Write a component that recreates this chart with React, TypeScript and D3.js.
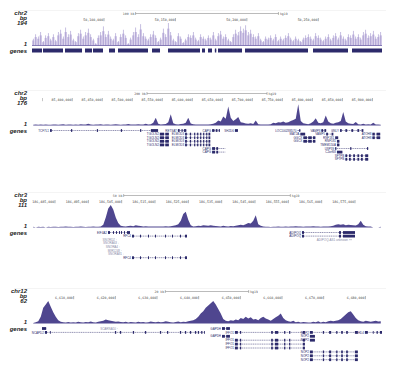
import React from "react";
import * as d3 from "d3";

const W = 395;
const H = 370;
const X0 = 32;
const X1 = 382;

// region info per panel
const chroms = ["chr2", "chr2", "chr3", "chr12"];
const maxLabels = ["194", "176", "111", "62"];
const regionStartBp = [50049600, 85333000, 186478100, 6600000];
const regionKb = [245, 583, 105, 84];
const scaleBarKb = [100, 200, 50, 20];

const ticks1 = [50100000, 50150000, 50200000, 50250000];
const ticks2 = [85350000, 85400000, 85450000, 85500000, 85550000, 85600000, 85650000, 85700000, 85750000, 85800000, 85850000, 85900000];
const ticks3 = [186485000, 186495000, 186505000, 186515000, 186525000, 186535000, 186545000, 186555000, 186565000, 186575000];
const ticks4 = [6610000, 6620000, 6630000, 6640000, 6650000, 6660000, 6670000, 6680000];

// coverage, fraction of track height, 140 equal bins across the region
const sig1 = [
  0.3, 0.5, 0.4, 0.6, 0.2, 0.45, 0.55, 0.3, 0.5, 0.25,
  0.6, 0.7, 0.4, 0.8, 0.5, 0.65, 0.3, 0.2, 0.55, 0.7,
  0.4, 0.6, 0.75, 0.5, 0.3, 0.1, 0.45, 0.6, 0.85, 0.5,
  0.65, 0.4, 0.3, 0.55, 0.2, 0.5, 0.7, 0.45, 0.1, 0.35,
  0.6, 0.8, 0.5, 0.95, 0.55, 0.4, 0.3, 0.5, 0.65, 0.45,
  0.2, 0.35, 0.75, 0.5, 1.0, 0.6, 0.3, 0.2, 0.55, 0.4,
  0.15, 0.3, 0.5, 0.45, 0.6, 0.35, 0.25, 0.5, 0.4, 0.3,
  0.45, 0.35, 0.6, 0.3, 0.55, 0.65, 0.4, 0.5, 0.3, 0.2,
  0.5, 0.7, 0.6, 0.85, 0.75, 0.9, 0.6, 0.7, 0.5, 0.4,
  0.55, 0.3, 0.2, 0.4, 0.35, 0.45, 0.3, 0.5, 0.25, 0.4,
  0.3, 0.45, 0.55, 0.35, 0.25, 0.4, 0.3, 0.2, 0.35, 0.45,
  0.5, 0.4, 0.3, 0.55, 0.45, 0.35, 0.25, 0.4, 0.5, 0.3,
  0.45, 0.55, 0.35, 0.6, 0.4, 0.3, 0.5, 0.45, 0.65, 0.4,
  0.5, 0.35, 0.6, 0.7, 0.45, 0.55, 0.65, 0.4, 0.5, 0.6,
];
const sig2 = [
  0.03, 0.04, 0.03, 0.05, 0.03, 0.04, 0.03, 0.03, 0.05, 0.04,
  0.03, 0.04, 0.06, 0.03, 0.04, 0.05, 0.03, 0.04, 0.03, 0.06,
  0.04, 0.05, 0.08, 0.04, 0.03, 0.05, 0.04, 0.06, 0.03, 0.04,
  0.05, 0.03, 0.04, 0.06, 0.04, 0.03, 0.05, 0.04, 0.07, 0.04,
  0.05, 0.04, 0.06, 0.05, 0.04, 0.08, 0.05, 0.06, 0.12, 0.35,
  0.08, 0.05, 0.06, 0.07, 0.15, 0.5, 0.1, 0.06, 0.05, 0.07,
  0.08, 0.12, 0.35, 0.09, 0.06, 0.05, 0.04, 0.05, 0.04, 0.05,
  0.04, 0.06, 0.08, 0.12, 0.22, 0.18, 0.4, 0.3, 0.85, 0.35,
  0.2, 0.28, 0.38, 0.15, 0.12, 0.09, 0.08, 0.1, 0.07, 0.22,
  0.06, 0.05, 0.04, 0.05, 0.04, 0.06, 0.12, 0.1, 0.15, 0.13,
  0.18, 0.12, 0.15, 0.2, 0.25, 0.3, 0.95, 0.2, 0.1, 0.08,
  0.06, 0.1, 0.18, 0.32, 0.12, 0.1, 0.15, 0.45, 0.18, 0.1,
  0.08, 0.12, 0.15, 0.2, 0.6, 0.18, 0.1, 0.08, 0.07, 0.16,
  0.06, 0.05, 0.08, 0.05, 0.06, 0.04, 0.12, 0.05, 0.04, 0.03,
];
const sig3 = [
  0.03, 0, 0.03, 0.02, 0.03, 0, 0.03, 0.02, 0.03, 0.03,
  0.02, 0.03, 0.03, 0.04, 0.03, 0.03, 0.02, 0.03, 0.03, 0.04,
  0.03, 0.02, 0.03, 0.03, 0.04, 0.03, 0.03, 0.05, 0.12, 0.45,
  0.85, 1.0, 0.8, 0.45, 0.2, 0.08, 0.06, 0.05, 0.07, 0.08,
  0.06, 0.1, 0.08, 0.07, 0.05, 0.06, 0.04, 0.05, 0.04, 0.05,
  0.04, 0.05, 0.04, 0.06, 0.05, 0.06, 0.08, 0.1, 0.15, 0.3,
  0.6, 0.7, 0.35, 0.1, 0.05, 0.06, 0.08, 0.07, 0.1, 0.09,
  0.08, 0.1, 0.08, 0.07, 0.06, 0.05, 0.08, 0.06, 0.05, 0.07,
  0.06, 0.08, 0.1, 0.12, 0.1, 0.14, 0.2, 0.18, 0.3, 0.55,
  0.15, 0.08, 0.04, 0.03, 0.03, 0.02, 0.03, 0.03, 0.04, 0.03,
  0.03, 0.04, 0.03, 0.05, 0.04, 0.06, 0.05, 0.04, 0.03, 0.05,
  0.04, 0.05, 0.06, 0.04, 0.05, 0.03, 0.04, 0.05, 0.04, 0.06,
  0.08, 0.12, 0.15, 0.12, 0.14, 0.1, 0.12, 0.11, 0.1, 0.09,
  0.15, 0.3, 0.12, 0.06, 0.05, 0.04, 0, 0, 0, 0.03,
];
const sig4 = [
  0.02, 0.06, 0.1, 0.3, 0.7, 0.85, 1.0, 0.75, 0.5, 0.3,
  0.15, 0.08, 0.06, 0.05, 0.07, 0.04, 0.06, 0.05, 0.08, 0.06,
  0.05, 0.07, 0.06, 0.09, 0.06, 0.05, 0.08, 0.1, 0.12, 0.18,
  0.14, 0.12, 0.1, 0.08, 0.09, 0.07, 0.06, 0.08, 0.05, 0.07,
  0.06, 0.05, 0.08, 0.06, 0.07, 0.05, 0.06, 0.09, 0.07, 0.06,
  0.08, 0.06, 0.07, 0.1, 0.08, 0.06, 0.05, 0.07, 0.09, 0.06,
  0.08, 0.07, 0.1, 0.12, 0.15, 0.2, 0.3, 0.45, 0.55, 0.7,
  0.8, 0.9, 1.0, 0.85, 0.65, 0.45, 0.2, 0.12, 0.1, 0.15,
  0.12, 0.18, 0.15, 0.25, 0.2, 0.3, 0.22, 0.28, 0.18, 0.2,
  0.15, 0.25, 0.3, 0.22, 0.18, 0.12, 0.2, 0.28, 0.35, 0.45,
  0.25, 0.15, 0.1, 0.08, 0.12, 0.06, 0.08, 0.05, 0.07, 0.06,
  0.04, 0.05, 0.08, 0.06, 0.1, 0.05, 0.08, 0.06, 0.1, 0.12,
  0.1, 0.12, 0.15, 0.2, 0.3, 0.4, 0.5, 0.55, 0.4, 0.25,
  0.15, 0.1, 0.08, 0.12, 0.1, 0.08, 0.1, 0.12, 0.09, 0.1,
];

type Gene = { n: string; r: number; s: number; e: number; x: number[][]; gray?: boolean };

// gene models, kb from region start
const genes1: Gene[] = [
  [0, 7], [7.7, 21.7], [23.1, 35], [37.1, 42], [42.7, 49.7], [53.9, 58.1], [60.2, 81.2],
  [84, 89.6], [95.2, 117.6], [119, 121.1], [123.2, 126], [128, 129], [130.2, 147],
  [149.1, 193.2], [196.7, 221.2], [224, 245],
].map(([s, e]) => ({ n: "", r: 0, s, e, x: [[s, e]] }));

const genes2: Gene[] = [
  { n: "TCF7L1", r: 0, s: 30, e: 210, x: [[30, 33], [65, 67], [108, 110], [148, 150], [180, 182], [198, 210]] },
  { n: "RETSAT", r: 0, s: 243, e: 257, x: [[243, 246], [249, 251], [253, 257]] },
  { n: "CAPG", r: 0, s: 300, e: 313, x: [[300, 304], [306, 309], [311, 313]] },
  { n: "SH2D6", r: 0, s: 338, e: 343, x: [[338, 343]] },
  { n: "LOC100288570", r: 0, s: 442, e: 447, x: [[445, 447]] },
  { n: "VAMP8", r: 0, s: 482, e: 490, x: [[482, 485], [487, 490]] },
  { n: "GNLY", r: 0, s: 513, e: 552, x: [[513, 516], [522, 525], [532, 535], [542, 545], [549, 552]] },
  { n: "TGOLN2", r: 1, s: 213, e: 228, x: [[213, 220], [222, 228]] },
  { n: "TGOLN2", r: 2, s: 213, e: 228, x: [[213, 220], [222, 228]] },
  { n: "TGOLN2", r: 3, s: 213, e: 228, x: [[213, 220], [222, 228]] },
  { n: "TGOLN2", r: 4, s: 213, e: 228, x: [[213, 220], [222, 228]] },
  { n: "ELMOD3", r: 1, s: 255, e: 297, x: [[255, 258], [263, 265], [270, 272], [275, 277], [280, 282], [285, 287], [290, 292], [294, 297]] },
  { n: "ELMOD3", r: 2, s: 255, e: 297, x: [[255, 258], [263, 265], [270, 272], [275, 277], [280, 282], [285, 287], [290, 292], [294, 297]] },
  { n: "ELMOD3", r: 3, s: 255, e: 297, x: [[255, 258], [263, 265], [270, 272], [275, 277], [280, 282], [285, 287], [290, 292], [294, 297]] },
  { n: "ELMOD3", r: 4, s: 255, e: 297, x: [[255, 258], [263, 265], [270, 272], [275, 277], [280, 282], [285, 287], [290, 292], [294, 297]] },
  { n: "CAPG", r: 5, s: 300, e: 322, x: [[300, 305], [307, 310]] },
  { n: "CAPG", r: 6, s: 300, e: 322, x: [[300, 305], [307, 310]] },
  { n: "MAT2A", r: 1, s: 447, e: 455, x: [[447, 455]] },
  { n: "VAMP5", r: 1, s: 490, e: 502, x: [[490, 493], [499, 502]] },
  { n: "ATOH8", r: 1, s: 567, e: 580, x: [[567, 571], [574, 580]] },
  { n: "ATOH8", r: 2, s: 567, e: 580, x: [[567, 571], [574, 580]] },
  { n: "GGCX", r: 2, s: 452, e: 472, x: [[452, 458], [460, 466], [468, 472]] },
  { n: "GGCX", r: 3, s: 452, e: 472, x: [[452, 458], [460, 466], [468, 472]] },
  { n: "RNF181", r: 2, s: 505, e: 510, x: [[505, 510]] },
  { n: "RNF181", r: 3, s: 508, e: 512, x: [[508, 512]] },
  { n: "TMEM150A", r: 4, s: 508, e: 512, x: [[508, 512]] },
  { n: "USP39", r: 5, s: 505, e: 560, x: [[505, 507], [530, 532], [558, 560]] },
  { n: "C2orf68", r: 6, s: 508, e: 517, x: [[508, 517]] },
  { n: "SFTPB", r: 7, s: 522, e: 560, x: [[522, 525], [528, 531], [535, 538], [542, 545], [548, 551], [555, 560]] },
  { n: "SFTPB", r: 8, s: 522, e: 560, x: [[522, 525], [528, 531], [535, 538], [542, 545], [548, 551], [555, 560]] },
];

const rfc4Exons = [[30, 30.6], [32.4, 32.7], [34.8, 35.1], [36.9, 37.2], [39.9, 40.2], [42, 42.3], [44.4, 44.7], [45.9, 46.5]];
const adipoqExons = [[81, 81.6], [92.1, 92.7], [93.3, 96.9]];
const genes3: Gene[] = [
  { n: "EIF4A2", r: 0, s: 22.8, e: 29.4, x: [[22.8, 23.4], [24.3, 24.6], [25.2, 25.5], [26.1, 26.4], [26.7, 27], [27.6, 27.9], [28.5, 29.4]] },
  { n: "RFC4", r: 1, s: 30, e: 46.5, x: rfc4Exons },
  { n: "SNORD2", r: 2, s: 25.2, e: 25.3, x: [], gray: true },
  { n: "SNORA63", r: 3, s: 25.8, e: 25.9, x: [], gray: true },
  { n: "SNORA4", r: 4, s: 26.1, e: 26.2, x: [], gray: true },
  { n: "MIR1248", r: 5, s: 26.7, e: 26.8, x: [], gray: true },
  { n: "SNORA81", r: 6, s: 27.3, e: 27.4, x: [], gray: true },
  { n: "RFC4", r: 7, s: 30, e: 46.5, x: rfc4Exons },
  { n: "ADIPOQ", r: 0, s: 81, e: 96.9, x: adipoqExons },
  { n: "ADIPOQ", r: 1, s: 81, e: 96.9, x: adipoqExons },
  { n: "ADIPOQ-AS1 unknown", r: 2, s: 95.1, e: 96, x: [], gray: true },
];

const ncapd2Exons = [[3.1, 3.6], [4.3, 4.5], [19.9, 20.2], [21.1, 21.4], [24.2, 24.5], [27.1, 27.4], [30.7, 31], [32.4, 32.7], [35.5, 35.8], [36.7, 37], [37.9, 38.2], [39.1, 39.4], [39.8, 40.1], [40.6, 40.9], [41.3, 41.5]];
const iffo1Exons = [[48.7, 49.4], [49.9, 50.2], [57.4, 57.8], [58.3, 59.1], [60.5, 60.8], [61.7, 62], [65, 65.5]];
const nop2Exons = [[66.7, 67.4], [69.8, 70.1], [71.3, 71.8], [73, 73.3], [74.2, 74.6], [75.4, 75.8], [77.5, 78.2]];
const genes4: Gene[] = [
  { n: "", r: 0, s: 2.4, e: 3.4, x: [[2.4, 3.4]] },
  { n: "SCARNA10", r: 0, s: 20.4, e: 20.5, x: [], gray: true },
  { n: "NCAPD2", r: 1, s: 3.1, e: 41.5, x: ncapd2Exons },
  { n: "GAPDH", r: 0, s: 45.6, e: 47.5, x: [[45.6, 46.3], [46.6, 47.5]] },
  { n: "GAPDH", r: 2, s: 45.6, e: 47.5, x: [[45.6, 46.3], [46.6, 47.5]] },
  { n: "IFFO1", r: 1, s: 48.7, e: 65.5, x: iffo1Exons },
  { n: "IFFO1", r: 3, s: 48.7, e: 65.5, x: iffo1Exons },
  { n: "IFFO1", r: 4, s: 48.7, e: 65.5, x: iffo1Exons },
  { n: "IFFO1", r: 5, s: 48.7, e: 65.5, x: iffo1Exons },
  { n: "NOP2", r: 1, s: 66.7, e: 78.2, x: nop2Exons },
  { n: "NOP2", r: 2, s: 66.7, e: 67.9, x: [[66.7, 67.9]] },
  { n: "NOP2", r: 3, s: 66.7, e: 67.9, x: [[66.7, 67.9]] },
  { n: "NOP2", r: 6, s: 66.7, e: 78.2, x: nop2Exons },
  { n: "NOP2", r: 7, s: 66.7, e: 78.2, x: nop2Exons },
  { n: "NOP2", r: 8, s: 66.7, e: 78.2, x: nop2Exons },
  { n: "CHD4", r: 1, s: 79.9, e: 84, x: [[79.9, 80.6], [81.8, 82], [82.7, 83], [83.5, 84]] },
];

const allTicks = [ticks1, ticks2, ticks3, ticks4];
const allSig = [sig1, sig2, sig3, sig4];
const allGenes = [genes1, genes2, genes3, genes4];

const panelTops = [10, 90, 192, 288];
const rowGap = [0, 3.6, 3.6, 3.9];
const geneColor = "#2c2a6b";
const sigColor = "#4f468f";
const labelFont = "Liberation Sans, Arial, sans-serif";

function Panel({ i }: { i: number }) {
  const top = panelTops[i];
  const x = d3.scaleLinear().domain([0, regionKb[i]]).range([X0, X1]);
  const sig = allSig[i];
  const bin = d3.scaleLinear().domain([0, sig.length]).range([X0, X1]);
  const y = d3.scaleLinear().domain([0, 1]).range([top + 35.5, top + 13]);
  const bw = bin(1) - bin(0);
  const rowY = (r: number) => top + 40.5 + r * rowGap[i];
  const fmt = d3.format(",");

  const area = d3
    .area<number>()
    .x((_, k) => bin(k) + bw / 2)
    .y0(y(0))
    .y1((d) => y(d))
    .curve(d3.curveLinear);

  const cx = (X0 + X1) / 2;
  const barLen = x(scaleBarKb[i]) - x(0);
  const sbY = top + 3.5;

  return (
    <g>
      <line x1={14} x2={386} y1={top + 0.5} y2={top + 0.5} stroke="#ececec" strokeWidth={0.6} />
      {/* track labels */}
      <g fontFamily={labelFont} fontStyle="italic" fontWeight="bold" fontSize={6} textAnchor="end" fill="#222">
        <text x={27} y={top + 4.5}>{chroms[i]}</text>
        <text x={27} y={top + 9.5}>bp</text>
        <text x={27} y={top + 15}>{maxLabels[i]}</text>
        <text x={27} y={top + 36}>1</text>
        <text x={27} y={top + 42.5}>genes</text>
      </g>
      {/* scale bar */}
      <g stroke="#777" strokeWidth={0.5}>
        <line x1={cx - barLen / 2} x2={cx + barLen / 2} y1={sbY} y2={sbY} />
        <line x1={cx - barLen / 2} x2={cx - barLen / 2} y1={sbY - 1.5} y2={sbY + 1.5} />
        <line x1={cx + barLen / 2} x2={cx + barLen / 2} y1={sbY - 1.5} y2={sbY + 1.5} />
      </g>
      <g fontFamily="DejaVu Sans Mono, monospace" fontSize={3.2} fill="#555" opacity={0.99}>
        <text x={cx - barLen / 2 - 1.2} y={sbY + 1.1} textAnchor="end">{scaleBarKb[i]} kb</text>
        <text x={cx + barLen / 2 + 1.5} y={sbY + 1.1}>hg19</text>
      </g>
      {/* ruler ticks */}
      <g fontFamily="DejaVu Sans Mono, monospace" fontSize={3.3} fill="#444" opacity={0.99}>
        {allTicks[i].map((t) => {
          const tx = x((t - regionStartBp[i]) / 1000);
          const label = fmt(t);
          const showText = tx - label.length * 2 > X0 - 4;
          return (
            <g key={t}>
              <line x1={tx} x2={tx} y1={top + 8} y2={top + 11.2} stroke="#333" strokeWidth={0.4} />
              {showText && (
                <text x={tx - 0.8} y={top + 11} textAnchor="end">{label}</text>
              )}
            </g>
          );
        })}
      </g>
      {/* signal */}
      {i === 0 ? (
        <g>
          {sig.map((v, k) => (
            <g key={k}>
              <rect x={bin(k)} width={bw} y={y(v * 0.75)} height={y(0) - y(v * 0.75)} fill="#d3cae7" />
              <rect x={bin(k) + bw / 2 - 0.3} width={0.6} y={y(v)} height={y(0) - y(v)} fill="#a093cc" />
            </g>
          ))}
          <line x1={X0} x2={X1} y1={y(0)} y2={y(0)} stroke="#6e62a8" strokeWidth={0.8} />
        </g>
      ) : (
        <path d={area(sig) ?? ""} fill={sigColor} />
      )}
      {/* genes */}
      <g>
        {allGenes[i].map((g, k) => {
          const gy = rowY(g.r);
          const h = i === 0 ? 4 : 2.8;
          const col = g.gray ? "#8a8aa8" : geneColor;
          return (
            <g key={k}>
              {g.e - g.s > 0 && (
                <line
                  x1={x(g.s)}
                  x2={x(g.e)}
                  y1={gy}
                  y2={gy}
                  stroke={col}
                  strokeWidth={0.5}
                  strokeDasharray={g.x.length > 1 ? "1.2,0.6" : undefined}
                />
              )}
              {g.x.map(([a, b], m) => (
                <rect key={m} x={x(a)} width={Math.max(0.7, x(b) - x(a))} y={gy - h / 2} height={h} fill={geneColor} />
              ))}
              {g.n && (
                <text
                  x={x(g.s) - 1}
                  y={gy + 1.1}
                  textAnchor="end"
                  fontFamily={labelFont}
                  fontSize={3}
                  fill={col}
                  opacity={0.99}
                >
                  {g.n}
                </text>
              )}
            </g>
          );
        })}
      </g>
    </g>
  );
}

export default function App() {
  return (
    <svg
      width={W}
      height={H}
      viewBox={`0 0 ${W} ${H}`}
      style={{ position: "absolute", left: 0, top: 0, background: "#fff" }}
    >
      <rect width={W} height={H} fill="#fff" />
      {[0, 1, 2, 3].map((i) => (
        <Panel key={i} i={i} />
      ))}
    </svg>
  );
}
